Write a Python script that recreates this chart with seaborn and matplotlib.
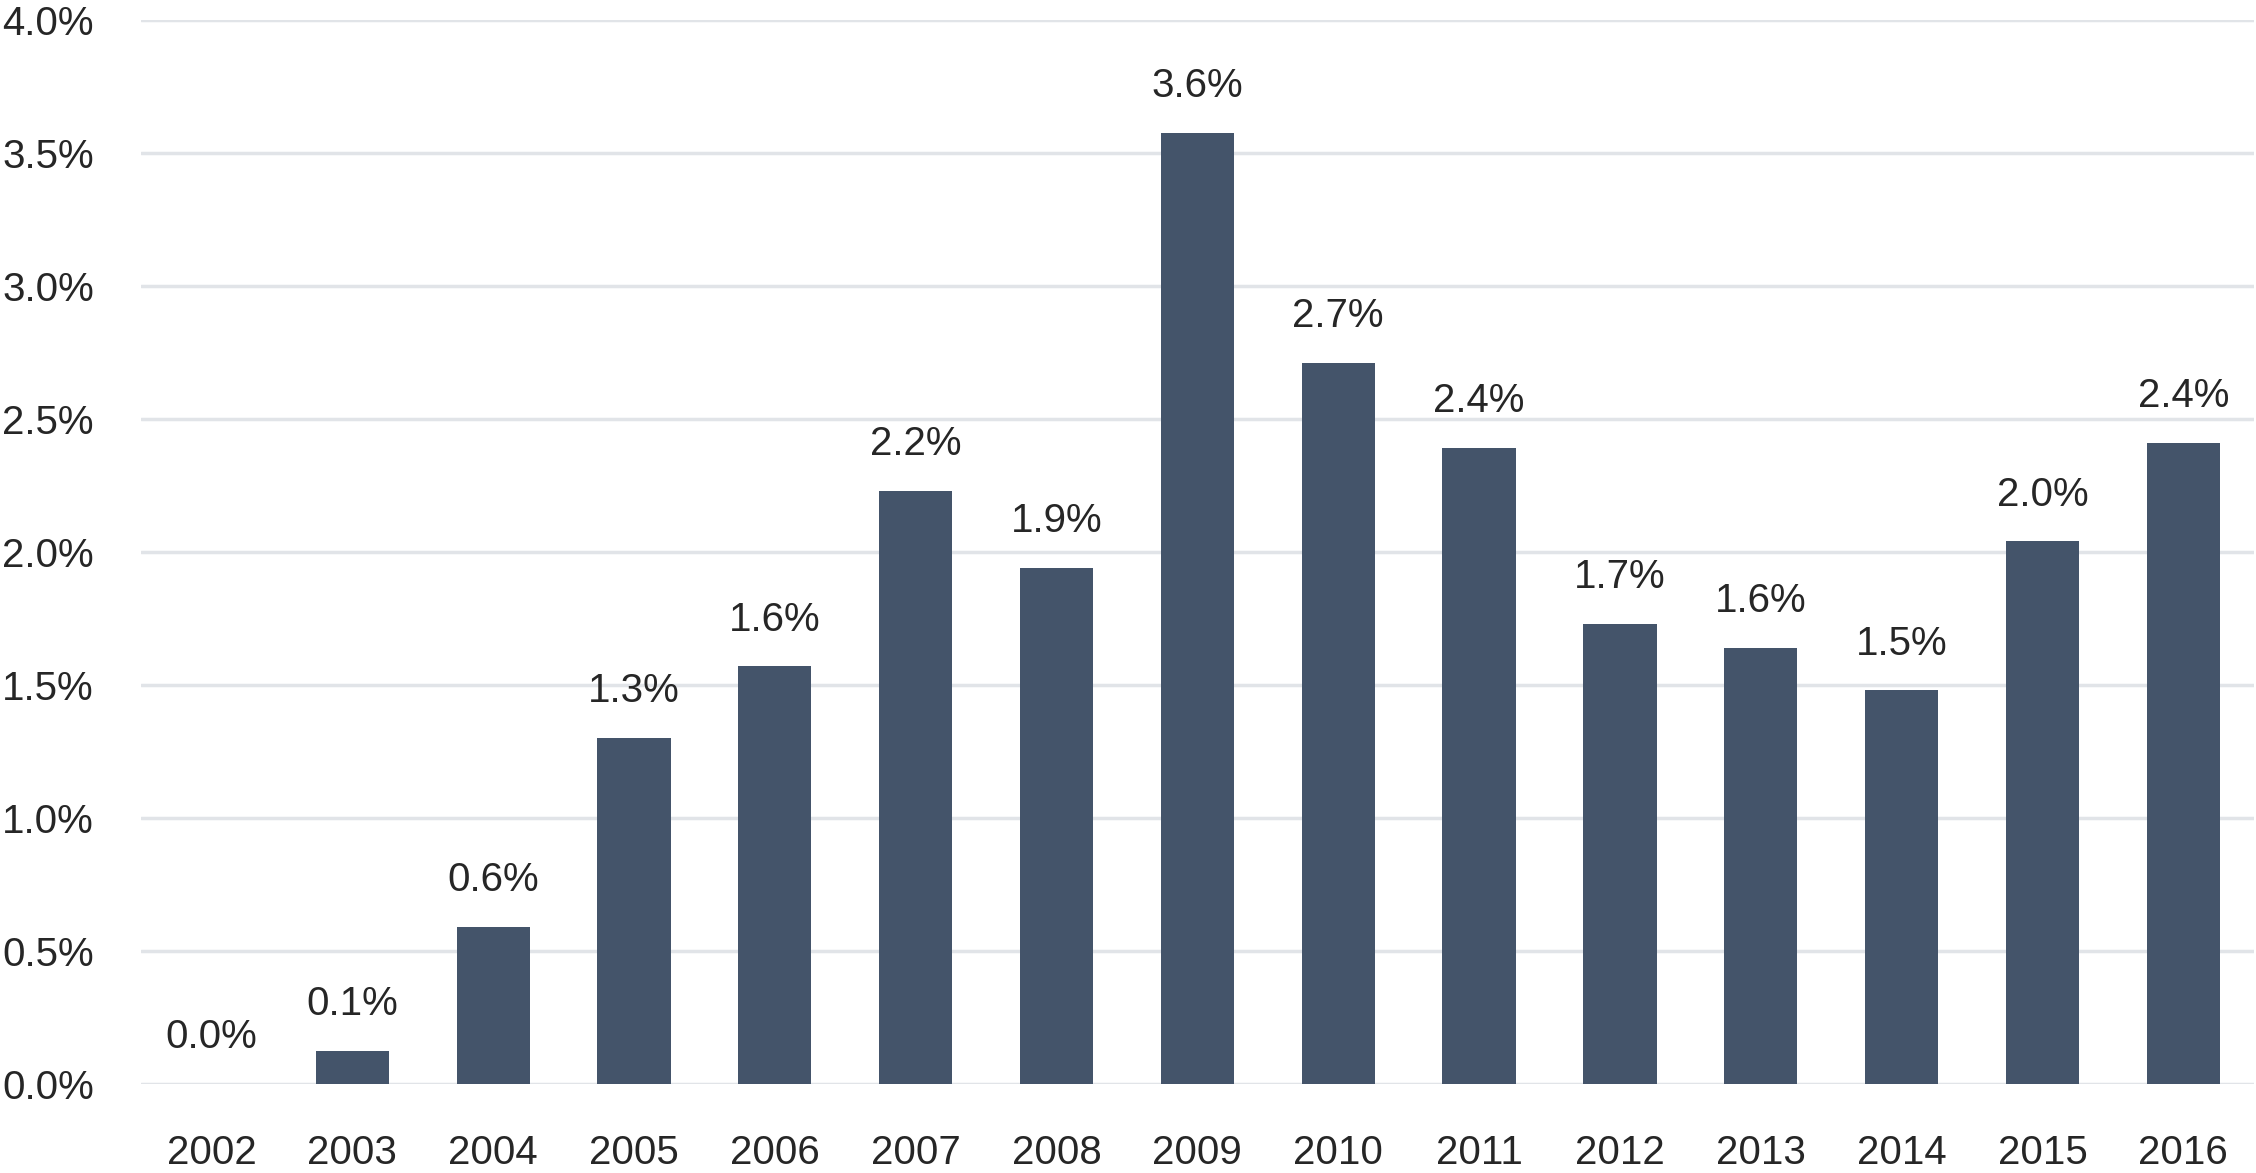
import matplotlib
matplotlib.use("Agg")
import pandas as pd
import matplotlib.pyplot as plt
import seaborn as sns

years = ["2002", "2003", "2004", "2005", "2006", "2007", "2008", "2009",
         "2010", "2011", "2012", "2013", "2014", "2015", "2016"]
rates = [0.0, 0.125, 0.59, 1.30, 1.57, 2.23, 1.94, 3.575,
         2.71, 2.39, 1.73, 1.64, 1.48, 2.04, 2.41]
yticks = [0.0, 0.5, 1.0, 1.5, 2.0, 2.5, 3.0, 3.5, 4.0]

df = pd.DataFrame({"year": years, "rate": rates})

sns.set_style("white")
plt.rcParams["font.family"] = ["Liberation Sans", "DejaVu Sans"]
plt.rcParams["font.size"] = 14.5

fig = plt.figure(figsize=(11.28, 5.865), dpi=200)
ax = fig.add_axes([0.0625, 0.0759, 0.9365, 0.9071])

# no white bar edges so the zero bar does not hide the baseline grid
sns.barplot(data=df, x="year", y="rate", color="#44546A", width=0.52,
            saturation=1, linewidth=0, ax=ax, zorder=3)

ax.set_ylim(0, 4.0)
ax.set_xlim(-0.5, 14.5)
ax.set_yticks(yticks)
ax.set_yticklabels([f"{t:.1f}%" for t in yticks])
ax.yaxis.grid(True, color="#E1E4E8", linewidth=1.25)
ax.set_axisbelow(True)
sns.despine(ax=ax, left=True, bottom=True)
ax.tick_params(axis="y", length=0, pad=17, labelsize=14.5)
ax.tick_params(axis="x", length=0, pad=18, labelsize=14.5)
ax.set_xlabel("")
ax.set_ylabel("")

ax.bar_label(ax.containers[0], labels=[f"{v:.1f}%" for v in rates],
             padding=10, fontsize=14.5)

fig.savefig("out.png", dpi=200)
